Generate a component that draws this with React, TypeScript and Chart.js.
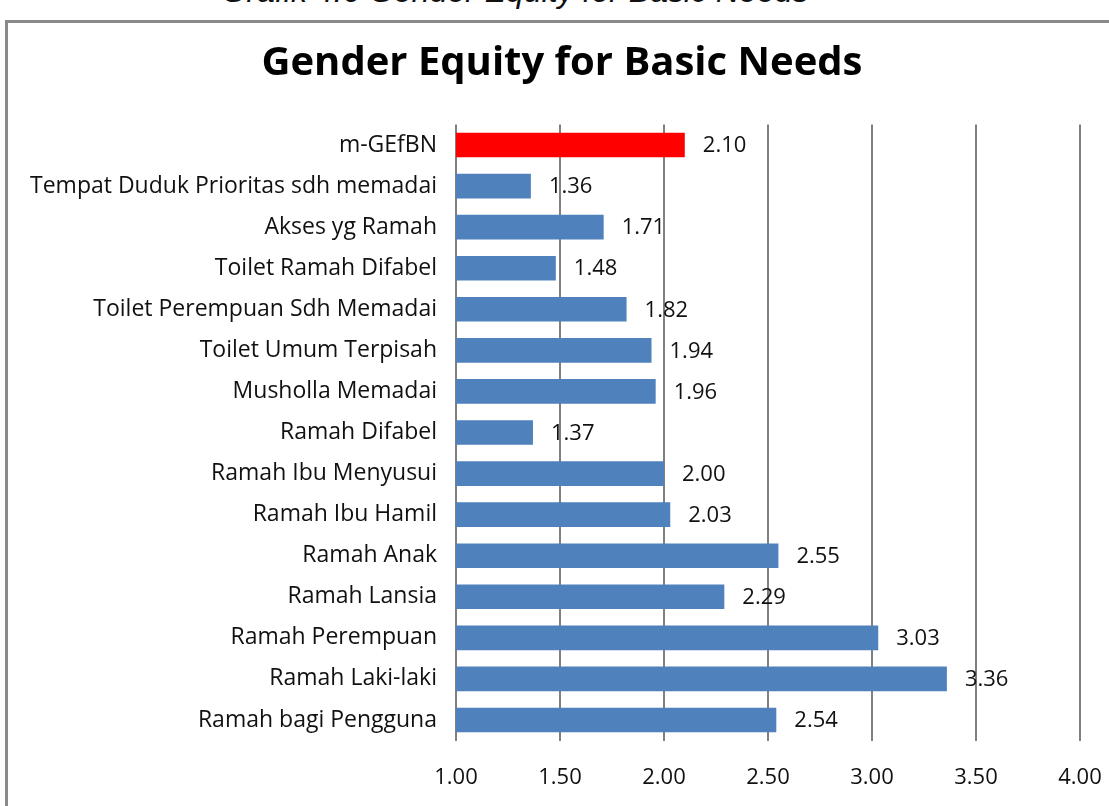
import React, { useEffect, useRef } from "react";
import { Chart, registerables } from "chart.js";

Chart.register(...registerables);

const categories = [
  "m-GEfBN",
  "Tempat Duduk Prioritas sdh memadai",
  "Akses yg Ramah",
  "Toilet Ramah Difabel",
  "Toilet Perempuan Sdh Memadai",
  "Toilet Umum Terpisah",
  "Musholla Memadai",
  "Ramah Difabel",
  "Ramah Ibu Menyusui",
  "Ramah Ibu Hamil",
  "Ramah Anak",
  "Ramah Lansia",
  "Ramah Perempuan",
  "Ramah Laki-laki",
  "Ramah bagi Pengguna",
];

const values = [2.1, 1.36, 1.71, 1.48, 1.82, 1.94, 1.96, 1.37, 2.0, 2.03, 2.55, 2.29, 3.03, 3.36, 2.54];

const barColors = values.map((_, i) => (i === 0 ? "#FF0000" : "#4F81BD"));

const FONT = "'Open Sans', Lato, sans-serif";

const dataLabelPlugin = {
  id: "dataLabels",
  afterDatasetsDraw(chart: any) {
    const ctx = chart.ctx;
    const meta = chart.getDatasetMeta(0);
    ctx.save();
    ctx.font = `22px ${FONT}`;
    ctx.fillStyle = "#111";
    ctx.textAlign = "left";
    ctx.textBaseline = "middle";
    meta.data.forEach((bar: any, i: number) => {
      ctx.fillText(values[i].toFixed(2), bar.x + 18, bar.y + 1);
    });
    ctx.restore();
  },
};

export default function App() {
  const ref = useRef<HTMLCanvasElement>(null);

  useEffect(() => {
    if (!ref.current) return;
    const chart = new Chart(ref.current, {
      type: "bar",
      data: {
        labels: categories,
        datasets: [
          {
            data: values,
            backgroundColor: barColors,
            borderWidth: 0,
            barPercentage: 1,
            categoryPercentage: 0.6,
          },
        ],
      },
      options: {
        indexAxis: "y",
        animation: false,
        responsive: false,
        devicePixelRatio: 1,
        layout: { padding: { left: 10, right: 29, top: 124.5, bottom: 17.5 } },
        plugins: {
          legend: { display: false },
          tooltip: { enabled: false },
          title: { display: false },
        },
        scales: {
          x: {
            min: 1,
            max: 4,
            ticks: {
              stepSize: 0.5,
              color: "#111",
              font: { family: FONT, size: 22 },
              padding: 24,
              callback: (v: any) => Number(v).toFixed(2),
            },
            grid: { color: "#808080", lineWidth: 2, drawTicks: false },
            border: { display: false },
            afterFit: (scale: any) => {
              scale.height = 48;
              scale.paddingLeft = 0;
              scale.paddingRight = 0;
            },
          },
          y: {
            ticks: {
              color: "#111",
              font: { family: FONT, size: 23 },
              padding: 11,
              autoSkip: false,
            },
            grid: { display: false },
            border: { display: false },
            afterFit: (scale: any) => {
              scale.width = 446;
              scale.paddingTop = 0;
              scale.paddingBottom = 0;
            },
          },
        },
      },
      plugins: [dataLabelPlugin],
    });
    return () => chart.destroy();
  }, []);

  return (
    <div
      style={{
        position: "absolute",
        left: 0,
        top: 0,
        width: 1109,
        height: 806,
        overflow: "hidden",
        background: "#fff",
      }}
    >
      <div
        style={{
          position: "absolute",
          left: 0,
          top: -27,
          width: 1030,
          textAlign: "center",
          fontFamily: "'Liberation Sans', Arial, sans-serif",
          fontStyle: "italic",
          fontSize: 32,
          color: "#111",
          whiteSpace: "nowrap",
        }}
      >
        Grafik 4.6 Gender Equity for Basic Needs
      </div>
      <div
        style={{
          position: "absolute",
          left: 5,
          top: 20,
          width: 1200,
          height: 900,
          border: "3px solid #8a8a8a",
        }}
      />
      <canvas
        ref={ref}
        width={1109}
        height={806}
        style={{ position: "absolute", left: 0, top: 0, display: "block" }}
      />
      <div
        style={{
          position: "absolute",
          left: 0,
          top: 34,
          width: 1124,
          textAlign: "center",
          fontFamily: FONT,
          fontWeight: "bold",
          fontSize: 40,
          lineHeight: "52px",
          color: "#000",
          whiteSpace: "nowrap",
        }}
      >
        Gender Equity for Basic Needs
      </div>
    </div>
  );
}
